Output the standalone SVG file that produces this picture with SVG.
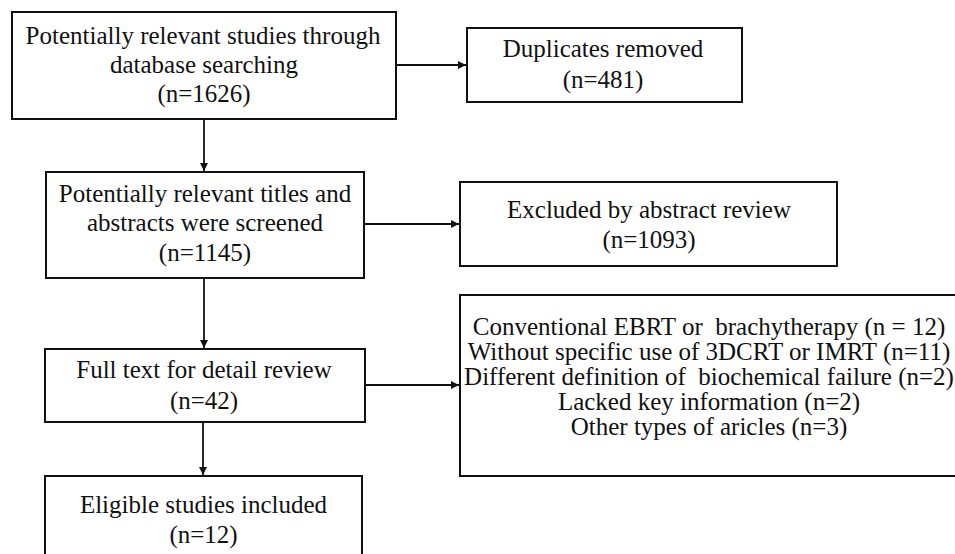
<svg xmlns="http://www.w3.org/2000/svg" width="955" height="554" viewBox="0 0 955 554">
<style>
.box{fill:#fff;stroke:#111;stroke-width:2}
.t{font-family:"Liberation Serif","Times New Roman",serif;font-size:25px;fill:#111;text-anchor:middle}
.c{stroke:#111;stroke-width:1.8;fill:none;marker-end:url(#ah)}
</style>
<defs>
<marker id="ah" viewBox="0 0 10 10" refX="10" refY="5" markerWidth="4.5" markerHeight="4.5" markerUnits="strokeWidth" orient="auto">
<path d="M0,0 L10,5 L0,10 z" fill="#111"/>
</marker>
</defs>
<rect width="955" height="554" fill="#fff"/>
<g id="connectors">
<line class="c" x1="396" y1="65" x2="466" y2="65"/>
<line class="c" x1="204" y1="119" x2="204" y2="171"/>
<line class="c" x1="364" y1="224" x2="459" y2="224"/>
<line class="c" x1="204" y1="278" x2="204" y2="348"/>
<line class="c" x1="365" y1="385" x2="459" y2="385"/>
<line class="c" x1="203" y1="422" x2="203" y2="475"/>
</g>
<g id="n1">
<rect class="box" x="12" y="12" width="384" height="107"/>
<text class="t" x="203" y="44">Potentially relevant studies through</text>
<text class="t" x="204" y="73">database searching</text>
<text class="t" x="204" y="102">(n=1626)</text>
</g>
<g id="n2">
<rect class="box" x="467" y="28" width="275" height="74"/>
<text class="t" x="603" y="57">Duplicates removed</text>
<text class="t" x="603" y="88">(n=481)</text>
</g>
<g id="n3">
<rect class="box" x="46" y="172" width="318" height="106"/>
<text class="t" x="205" y="202">Potentially relevant titles and</text>
<text class="t" x="205" y="231">abstracts were screened</text>
<text class="t" x="205" y="261">(n=1145)</text>
</g>
<g id="n4">
<rect class="box" x="460" y="182" width="377" height="84"/>
<text class="t" x="649" y="218">Excluded by abstract review</text>
<text class="t" x="649" y="248">(n=1093)</text>
</g>
<g id="n5">
<rect class="box" x="45" y="349" width="320" height="73"/>
<text class="t" x="204" y="378">Full text for detail review</text>
<text class="t" x="204" y="409">(n=42)</text>
</g>
<g id="n6">
<rect class="box" x="460" y="295" width="500" height="181"/>
<text class="t" x="709" y="335" xml:space="preserve">Conventional EBRT or  brachytherapy (n = 12)</text>
<text class="t" x="709" y="360">Without specific use of 3DCRT or IMRT (n=11)</text>
<text class="t" x="709" y="385" xml:space="preserve">Different definition of  biochemical failure (n=2)</text>
<text class="t" x="709" y="410">Lacked key information (n=2)</text>
<text class="t" x="709" y="435">Other types of aricles (n=3)</text>
</g>
<g id="n7">
<rect class="box" x="45" y="476" width="317" height="100"/>
<text class="t" x="203.5" y="513">Eligible studies included</text>
<text class="t" x="203.5" y="543">(n=12)</text>
</g>
</svg>
